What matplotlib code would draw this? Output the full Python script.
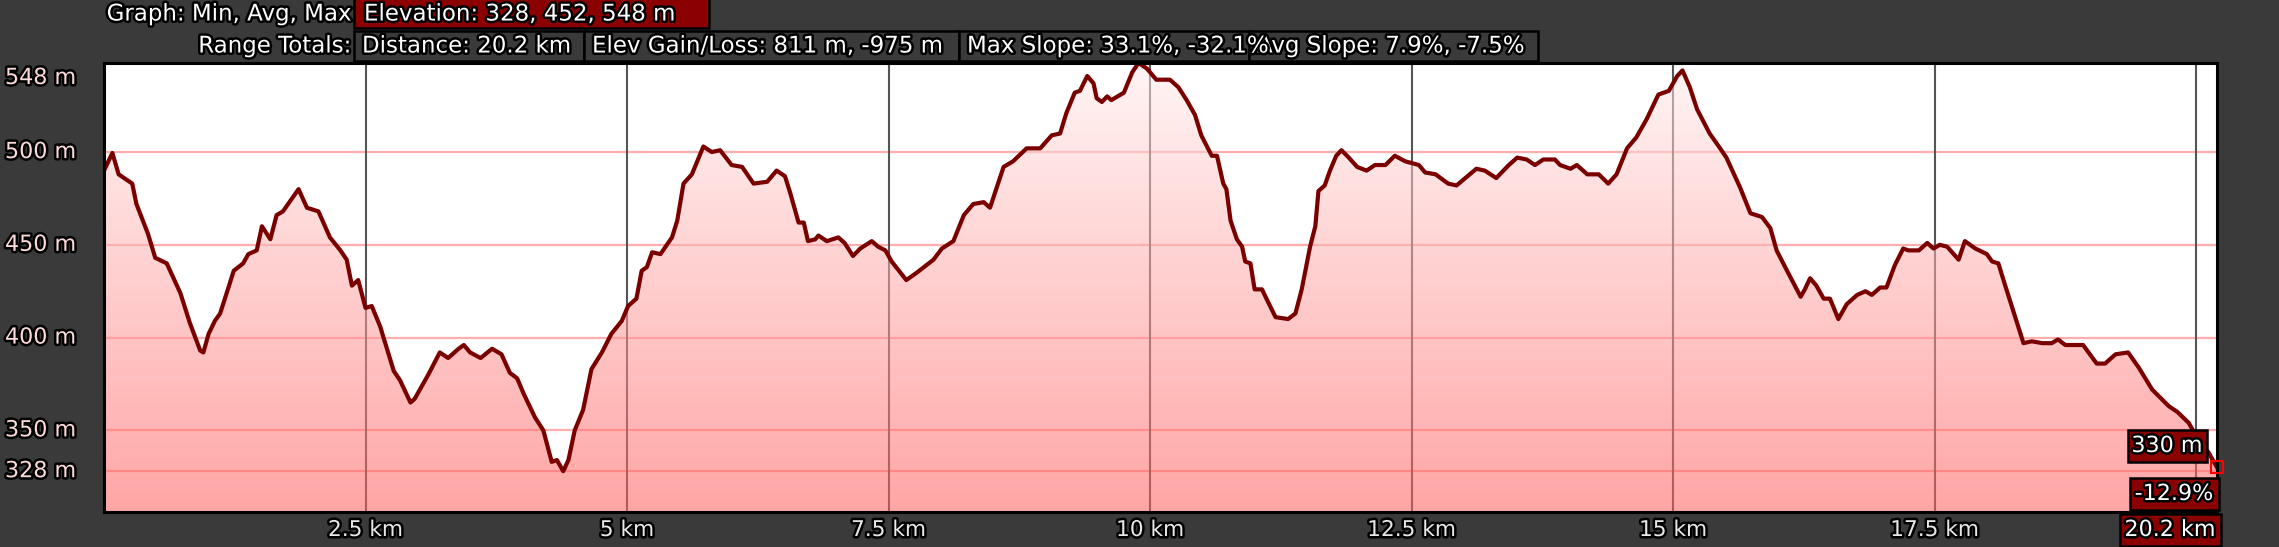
import numpy as np
import matplotlib
matplotlib.use('Agg')
import matplotlib.pyplot as plt
from matplotlib import patheffects, transforms
from matplotlib.patches import Rectangle, Polygon

# elevation profile (distance in km, elevation in m)
km = [0.0, 0.08, 0.14, 0.27, 0.31, 0.42, 0.49, 0.60, 0.73, 0.82, 0.92, 0.95, 1.00, 1.06, 1.11,
      1.19, 1.24, 1.33, 1.38, 1.46, 1.51, 1.59, 1.65, 1.71, 1.86, 1.94, 2.05, 2.16, 2.26, 2.32,
      2.37, 2.43, 2.50, 2.56, 2.64, 2.77, 2.83, 2.93, 2.97, 3.10, 3.21, 3.29, 3.39, 3.44, 3.50,
      3.60, 3.71, 3.80, 3.88, 3.95, 4.01, 4.12, 4.20, 4.28, 4.33, 4.39, 4.44, 4.50, 4.58, 4.66,
      4.76, 4.85, 4.95, 5.01, 5.09, 5.14, 5.19, 5.24, 5.32, 5.43, 5.48, 5.54, 5.62, 5.73, 5.81,
      5.89, 6.00, 6.10, 6.21, 6.34, 6.43, 6.51, 6.56, 6.64, 6.69, 6.73, 6.80, 6.83, 6.91, 7.02,
      7.08, 7.16, 7.23, 7.34, 7.40, 7.47, 7.53, 7.67, 7.77, 7.93, 8.01, 8.12, 8.22, 8.31, 8.41,
      8.47, 8.60, 8.69, 8.82, 8.95, 9.06, 9.14, 9.20, 9.28, 9.33, 9.40, 9.46, 9.49, 9.54, 9.59,
      9.63, 9.75, 9.83, 9.89, 9.97, 10.06, 10.19, 10.27, 10.35, 10.43, 10.49, 10.59, 10.64, 10.70,
      10.73, 10.77, 10.83, 10.88, 10.91, 10.96, 11.00, 11.07, 11.13, 11.20, 11.32, 11.39, 11.45,
      11.53, 11.58, 11.61, 11.67, 11.72, 11.78, 11.83, 11.90, 11.98, 12.07, 12.15, 12.25, 12.34,
      12.44, 12.57, 12.63, 12.73, 12.85, 12.93, 13.12, 13.20, 13.31, 13.43, 13.51, 13.60, 13.68,
      13.76, 13.87, 13.92, 14.02, 14.08, 14.18, 14.29, 14.38, 14.46, 14.56, 14.65, 14.75, 14.86,
      14.96, 15.04, 15.09, 15.16, 15.23, 15.35, 15.45, 15.51, 15.64, 15.74, 15.85, 15.93, 15.99,
      16.09, 16.22, 16.26, 16.31, 16.37, 16.44, 16.50, 16.58, 16.66, 16.76, 16.84, 16.90, 16.98,
      17.04, 17.12, 17.20, 17.25, 17.35, 17.43, 17.49, 17.55, 17.62, 17.73, 17.79, 17.89, 18.00,
      18.05, 18.11, 18.17, 18.30, 18.35, 18.43, 18.53, 18.62, 18.68, 18.75, 18.92, 19.05, 19.13,
      19.23, 19.35, 19.45, 19.58, 19.74, 19.82, 19.93, 20.02, 20.12, 20.20]
elev = [490, 499.5, 488, 483, 472, 456, 443, 440, 424, 408, 393, 392, 402, 409, 413,
        427, 436, 440, 445, 447, 460, 453, 466, 468, 480, 470, 468, 454, 447, 442,
        428, 431, 416, 417, 406, 382, 377, 365, 367, 380, 392, 389, 394, 396, 392,
        389, 394, 391, 381, 378, 370, 357, 350, 333, 334, 328, 334, 350, 361, 383,
        392, 402, 409, 417, 421, 436, 438, 446, 445, 454, 463, 483, 488, 503, 500,
        501, 493, 492, 483, 484, 490, 487, 478, 462, 462, 452, 453, 455, 452, 454,
        451, 444, 448, 452, 449, 447, 441, 431, 435, 442, 448, 452, 466, 472, 473,
        470, 492, 495, 502, 502, 509, 510, 521, 532, 533, 541, 537, 529, 527, 530,
        528, 532, 543, 548, 545, 539, 539, 535, 528, 520, 509, 498, 498, 483,
        480, 463, 453, 449, 441, 440, 426, 426, 419, 411, 410, 413, 426,
        449, 460, 479, 482, 490, 498, 501, 497, 492, 490, 493, 493, 498,
        495, 493, 489, 488, 483, 482, 491, 490, 486, 493, 497, 496, 493,
        496, 496, 493, 491, 493, 488, 488, 483, 488, 502, 508, 518, 531,
        533, 541, 544, 535, 523, 510, 502, 497, 481, 467, 465, 459, 447,
        436, 422, 426, 432, 428, 421, 421, 410, 418, 423, 425, 423, 427,
        427, 439, 448, 447, 447, 451, 448, 450, 449, 442, 452, 448, 445,
        441, 440, 429, 406, 397, 398, 397, 397, 399, 396, 396, 386, 386,
        391, 392, 384, 372, 363, 360, 354, 345, 338, 330]

y_ticks = [328, 350, 400, 450, 500, 548]
x_ticks = [2.5, 5, 7.5, 10, 12.5, 15, 17.5, 20]
x_labels = ['2.5 km', '5 km', '7.5 km', '10 km', '12.5 km', '15 km', '17.5 km', '']

elev_stats = [328, 452, 548]
totals = ['Distance: 20.2 km', 'Elev Gain/Loss: 811 m, -975 m',
          'Max Slope: 33.1%, -32.1%', 'Avg Slope: 7.9%, -7.5%']
end_slope = '-12.9%'
total_km = 20.2

W, H = 2279, 547
BG = '#3a3a3a'
DARKRED = '#8b0000'
LINE = '#7a0000'


def fx(px):
    return px / W


def fy(py):
    return 1 - py / H


def box(x0, y0, x1, y1, face):
    fig.add_artist(Rectangle((fx(x0), fy(y1)), (x1 - x0) / W, (y1 - y0) / H,
                             transform=fig.transFigure, facecolor=face,
                             edgecolor='black', lw=1.8, zorder=5))


outline = [patheffects.withStroke(linewidth=3.6, foreground='black')]

fig = plt.figure(figsize=(W / 100, H / 100), dpi=100, facecolor=BG)
ax = fig.add_axes([fx(104), fy(512), (2217 - 104) / W, (512 - 63) / H])
ax.set_facecolor('white')

lo = min(elev) - 0.1 * (max(elev) - min(elev))
hi = max(elev)
ax.set_xlim(0, total_km)
ax.set_ylim(lo, hi)

# grid lines sit under the translucent gradient fill
for v in y_ticks[:-1]:
    ax.axhline(v, color='#ffadad', lw=1.6, zorder=0.5)
for v in x_ticks:
    ax.axvline(v, color='#555555', lw=1.5, zorder=0.5)

# vertical gradient fill clipped to the area under the profile
g = np.linspace(0, 1, 256)[:, None]
rgba = np.zeros((256, 1, 4))
rgba[..., 0] = 1.0
rgba[..., 1] = (237 - (237 - 93) * g) / 255
rgba[..., 2] = rgba[..., 1]
rgba[..., 3] = 0.55
im = ax.imshow(rgba, extent=[0, total_km, lo, hi], aspect='auto', origin='upper', zorder=1)
verts = [(km[0], lo)] + list(zip(km, elev)) + [(km[-1], lo)]
area = Polygon(verts, closed=True, facecolor='none', edgecolor='none')
ax.add_patch(area)
im.set_clip_path(area)

ax.plot(km, elev, color=LINE, lw=3.0, zorder=3, solid_joinstyle='round')

# marker at the end of the track
ax.plot(km[-1], elev[-1], marker='s', ms=9, mfc='none', mec='#ff0000', mew=1.5,
        clip_on=False, zorder=6)

ax.set_xticks([])
ax.set_yticks([])
for s in ax.spines.values():
    s.set_color('black')
    s.set_linewidth(2.2)
    s.set_zorder(4)

# y labels
ytrans = transforms.blended_transform_factory(fig.transFigure, ax.transData)
for v in y_ticks:
    t = ytrans
    if v == y_ticks[-1]:
        t = transforms.offset_copy(ytrans, fig=fig, y=-15, units='dots')
    fig.text(fx(5), v, f'{v} m', transform=t, ha='left', va='center',
             color='#ffdada', fontsize=16, path_effects=outline)

# x labels
xtrans = transforms.blended_transform_factory(ax.transData, fig.transFigure)
for v, lab in zip(x_ticks, x_labels):
    if lab:
        ax.text(v, fy(530), lab, transform=xtrans, ha='center', va='center',
                color='#e8e8e8', fontsize=15.6, path_effects=outline, clip_on=False)

# header
box(354, -3, 709, 28, DARKRED)
fig.text(fx(351), fy(14), 'Graph: Min, Avg, Max', ha='right', va='center',
         color='white', fontsize=16.5, path_effects=outline)
fig.text(fx(364), fy(14), 'Elevation: ' + ', '.join(str(v) for v in elev_stats) + ' m',
         ha='left', va='center', color='white', fontsize=16.5, path_effects=outline, zorder=6)

fig.text(fx(351), fy(46), 'Range Totals:', ha='right', va='center',
         color='white', fontsize=16.5, path_effects=outline)
edges = [354, 584, 959, 1249, 1538]
for i in range(len(totals)):
    box(edges[i], 31, edges[i + 1], 61, BG)
# the max slope text runs over the next box, so it is drawn on top
text_z = [6, 6, 8, 7]
for i in range(len(totals)):
    fig.text(fx(edges[i] + 8), fy(46), totals[i], ha='left', va='center',
             color='white', fontsize=16.5, path_effects=outline, zorder=text_z[i])

# end-of-track readouts
box(2128, 430, 2207, 462, DARKRED)
fig.text(fx(2167), fy(446), f'{elev[-1]:.0f} m', ha='center', va='center',
         color='white', fontsize=16, path_effects=outline, zorder=6)
box(2130, 478, 2219, 510, DARKRED)
fig.text(fx(2174), fy(494), end_slope, ha='center', va='center',
         color='white', fontsize=16, path_effects=outline, zorder=6)
box(2120, 514, 2221, 546, DARKRED)
fig.text(fx(2170), fy(530), f'{total_km} km', ha='center', va='center',
         color='white', fontsize=16, path_effects=outline, zorder=6)

fig.savefig('out.png', dpi=100, facecolor=BG)
